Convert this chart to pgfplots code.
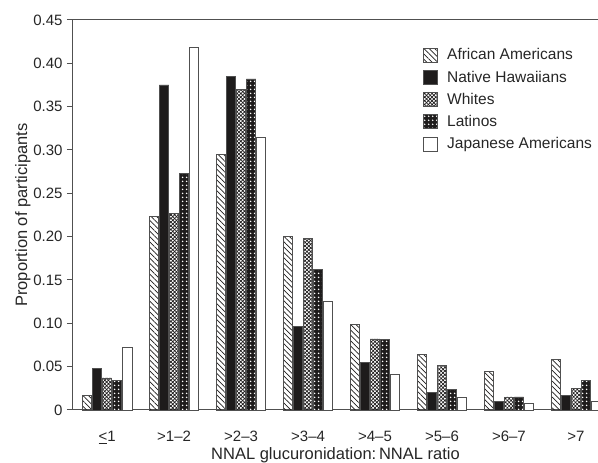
\documentclass[border=0pt]{standalone}
\usepackage{pgfplots}
\pgfplotsset{compat=1.18}
\usepackage{fontspec}
\setmainfont{Liberation Sans}
\usetikzlibrary{patterns.meta}
\definecolor{edge}{HTML}{505050}
\definecolor{dark}{HTML}{1E1C1C}
\begin{document}
\begin{tikzpicture}
\begin{axis}[
  scale only axis, width=525bp, height=390bp,
  xmin=-0.51, xmax=7.33, ymin=0, ymax=0.45,
  clip=false,
  axis x line*=bottom, axis y line*=left,
  axis line style={edge, line width=1bp},
  ybar,
  ytick={0,0.05,0.10,0.15,0.20,0.25,0.30,0.35,0.40,0.45},
  yticklabels={0,0.05,0.10,0.15,0.20,0.25,0.30,0.35,0.40,0.45},
  xtick={0,1,2,3,4,5,6,7},
  xticklabels={\underline{<}1,>1--2,>2--3,>3--4,>4--5,>5--6,>6--7,>7},
  major x tick style={draw=none},
  ytick style={edge, line width=1bp},
  tick align=outside, major tick length=6bp,
  /pgf/number format/assume math mode=true,
  tick label style={font=\fontsize{15bp}{18bp}\selectfont, text=black!85},
  xticklabel style={yshift=-12bp},
  yticklabel style={xshift=-1bp},
  xlabel={NNAL glucuronidation:\,NNAL ratio},
  ylabel={Proportion of participants},
  label style={font=\fontsize{16.5bp}{19bp}\selectfont, text=black!85},
  xlabel style={yshift=3.5bp},
  ylabel style={yshift=-4bp},
  legend style={at={(axis description cs:0.667,0.932)}, anchor=north west, draw=none, fill=none,
    font=\fontsize{15.5bp}{18bp}\selectfont, text=black!85, row sep=5.5bp, inner sep=0pt,
    /tikz/every odd column/.style={column sep=7bp}},
  legend cell align=left,
  legend image code/.code={\draw[#1, line width=0.8bp] (0bp,-7bp) rectangle (14bp,7bp);},
]
\addplot[draw=edge, line width=0.8bp, pattern={Lines[angle=-45,distance=3.8bp,line width=0.7bp]}, pattern color=dark, bar width=0.14, bar shift=-0.30]
 coordinates {(0,0.017) (1,0.223) (2,0.295) (3,0.200) (4,0.099) (5,0.064) (6,0.044) (7,0.058)};
\addplot[draw=edge, line width=0.8bp, fill=dark, bar width=0.14, bar shift=-0.15]
 coordinates {(0,0.048) (1,0.375) (2,0.385) (3,0.096) (4,0.055) (5,0.020) (6,0.010) (7,0.017)};
\addplot[draw=edge, line width=0.8bp, pattern={Hatch[angle=45,distance=2.6bp,line width=0.7bp]}, pattern color=dark, bar width=0.14, bar shift=0]
 coordinates {(0,0.037) (1,0.227) (2,0.370) (3,0.198) (4,0.082) (5,0.051) (6,0.015) (7,0.025)};
\addplot[draw=edge, line width=0.8bp, fill=dark, postaction={pattern={Dots[distance=3.6bp,radius=0.85bp]}, pattern color=white}, bar width=0.14, bar shift=0.15]
 coordinates {(0,0.034) (1,0.273) (2,0.382) (3,0.162) (4,0.081) (5,0.024) (6,0.015) (7,0.034)};
\addplot[draw=edge, line width=0.8bp, fill=white, bar width=0.14, bar shift=0.30]
 coordinates {(0,0.072) (1,0.418) (2,0.314) (3,0.125) (4,0.041) (5,0.015) (6,0.008) (7,0.010)};
\legend{African Americans, Native Hawaiians, Whites, Latinos, Japanese Americans}
\draw[edge, line width=1bp] (rel axis cs:0,1) -- (rel axis cs:1,1);
\coordinate (ll) at (rel axis cs:0,0);
\coordinate (ur) at (rel axis cs:1,1);
\end{axis}
\pgfresetboundingbox
\useasboundingbox ([shift={(-73bp,-53bp)}]ll) rectangle ([shift={(0bp,20bp)}]ur);
\end{tikzpicture}
\end{document}
